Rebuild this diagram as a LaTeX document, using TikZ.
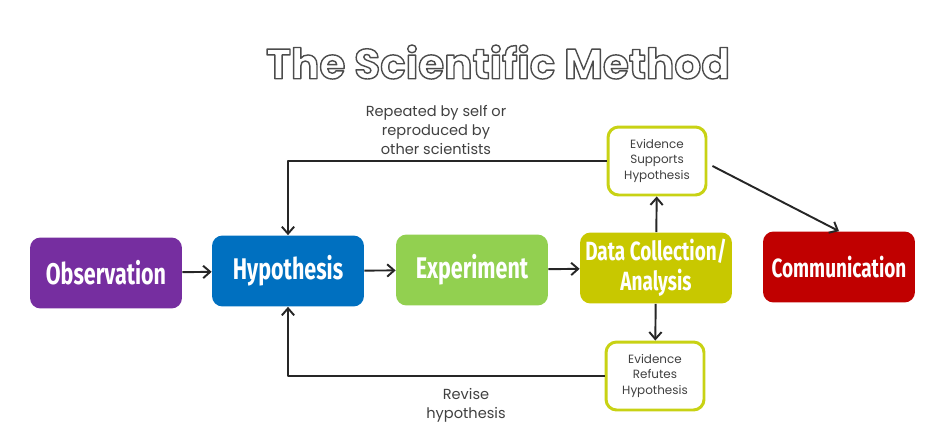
\documentclass[tikz,border=0pt]{standalone}
\usepackage{fontspec}
\usetikzlibrary{arrows.meta}
\setmainfont{Poppins}
\newfontfamily\boxfont[FakeStretch=0.72]{Fira Sans}
\newfontfamily\titlefont{Poppins}
\definecolor{obscol}{RGB}{118,46,160}
\definecolor{hypcol}{RGB}{0,112,192}
\definecolor{expcol}{RGB}{146,208,80}
\definecolor{datcol}{RGB}{200,200,0}
\definecolor{comcol}{RGB}{192,0,0}
\definecolor{evcol}{RGB}{200,210,20}
\definecolor{labcol}{RGB}{64,64,64}
\begin{document}
\begin{tikzpicture}[x=0.02cm, y=-0.02cm, line join=round, >={Straight Barb[length=4pt,width=7pt]},
	step box/.style={rounded corners=6pt, minimum width=3.04cm, minimum height=1.42cm, text=white,
		font=\boxfont\bfseries\fontsize{17}{17}\selectfont, align=center, inner sep=1pt},
	ev box/.style={draw=evcol, line width=1.7pt, fill=white, rounded corners=6pt, minimum width=1.96cm,
		minimum height=1.36cm, align=center, font=\fontsize{6.8}{8.6}\selectfont, text=labcol},
	link/.style={->, line width=1.1pt, draw=black!85},
	note/.style={align=center, font=\fontsize{8.3}{10.8}\selectfont, text=labcol}]
	\useasboundingbox (0,0) rectangle (930,436);
	% title
	\node (title) at (498,62) {\titlefont\bfseries\fontsize{24}{24}\selectfont
		\special{pdf:code q 1 Tr 0.8 w 0.3 G}The Scientific Method\special{pdf:code Q}};
	% main row
	\node[step box, fill=obscol] (obs) at (106,273) {Observation};
	\node[step box, fill=hypcol] (hyp) at (288,271) {Hypothesis};
	\node[step box, fill=expcol] (exp) at (472,270) {Experiment};
	\node[step box, fill=datcol, font=\boxfont\bfseries\fontsize{15}{17}\selectfont] (dat) at (656,268) {Data Collection/\\Analysis};
	\node[step box, fill=comcol, font=\boxfont\bfseries\fontsize{15}{17}\selectfont] (com) at (839,267) {Communication};
	% evidence
	\node[ev box] (sup) at (657,161) {Evidence\\Supports\\Hypothesis};
	\node[ev box] (ref) at (655,376) {Evidence\\Refutes\\Hypothesis};
	\draw[link] (obs) -- (hyp);
	\draw[link] (hyp) -- (exp);
	\draw[link] (exp) -- (dat);
	\draw[link] (dat) -- (sup);
	\draw[link] (dat) -- (ref);
	\draw[link] (sup.east) ++(5,5) coordinate (s1) (s1) -- (com.north);
	\draw[link] (sup.west) -| (hyp.north);
	\draw[link] (ref.west) -| (hyp.south);
	% labels
	\node[note] (rep) at (436,130) {Repeated by self or\\reproduced by\\other scientists};
	\node[note] (rev) at (466,405) {Revise\\hypothesis};
\end{tikzpicture}
\end{document}
